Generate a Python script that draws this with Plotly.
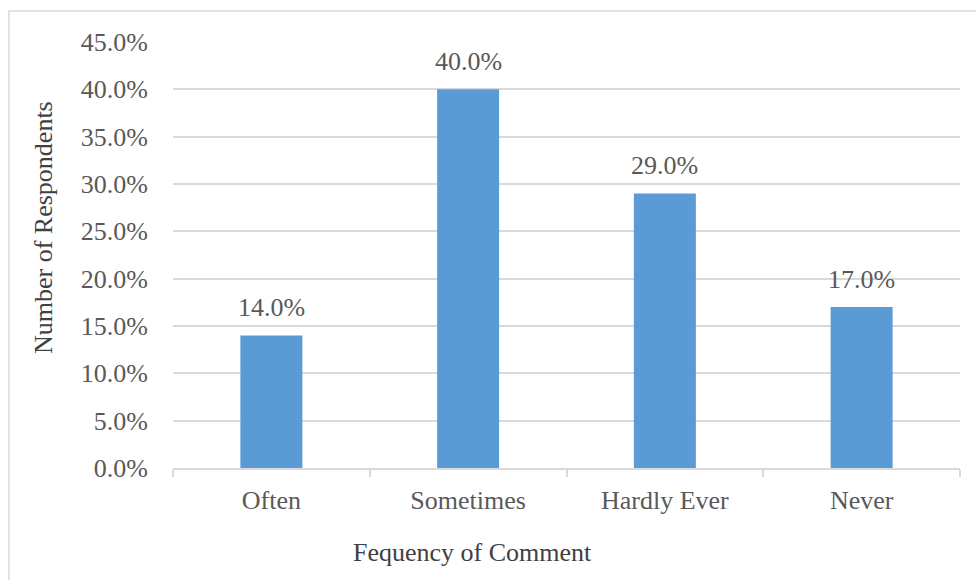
import plotly.graph_objects as go

categories = ["Often", "Sometimes", "Hardly Ever", "Never"]
shares = [14.0, 40.0, 29.0, 17.0]
y_ticks = [0, 5, 10, 15, 20, 25, 30, 35, 40, 45]

FONT = "Liberation Serif, Times New Roman, serif"
TEXT = "#595959"
TITLE = "#404040"
GRID = "#d9d9d9"
SIZE = 26

fig = go.Figure(
    go.Bar(
        x=categories,
        y=shares,
        marker=dict(color="#5B9BD5", line=dict(width=0)),
        hoverinfo="skip",
    )
)

# value labels above each bar
for cat, val in zip(categories, shares):
    fig.add_annotation(
        x=cat, y=val, text=f"{val:.1f}%", showarrow=False,
        yanchor="bottom", yshift=11,
        font=dict(family=FONT, size=SIZE, color=TEXT),
    )

# axis titles, placed as in the chart layout
fig.add_annotation(
    xref="paper", yref="paper", x=(472 - 173) / 787, y=(468 - 552) / 426,
    text="Fequency of Comment", showarrow=False, yanchor="middle", xanchor="center",
    font=dict(family=FONT, size=SIZE, color=TITLE),
)
fig.add_annotation(
    xref="paper", yref="paper", x=(43 - 173) / 787, y=(468 - 228) / 426,
    text="Number of Respondents", showarrow=False, textangle=-90,
    yanchor="middle", xanchor="center",
    font=dict(family=FONT, size=SIZE, color=TITLE),
)

# chart area frame
fig.add_shape(
    type="rect", xref="paper", yref="paper",
    x0=-0.2084, x1=1.06, y0=-0.35, y1=1.0728,
    line=dict(color=GRID, width=1.5), fillcolor="rgba(0,0,0,0)",
    layer="below",
)

fig.update_layout(
    width=976, height=580,
    margin=dict(l=173, r=16, t=42, b=112),
    paper_bgcolor="white", plot_bgcolor="white",
    bargap=0.685,
    showlegend=False,
    font=dict(family=FONT, size=SIZE, color=TEXT),
    xaxis=dict(
        showgrid=False, showline=True, linecolor=GRID, linewidth=1.5,
        ticks="outside", tickson="boundaries", ticklen=7, tickcolor=GRID, tickwidth=1.5,
        tickfont=dict(family=FONT, size=SIZE, color=TEXT),
        ticklabelstandoff=8,
    ),
    yaxis=dict(
        range=[0, 45], tickvals=y_ticks,
        ticktext=[f"{v:.1f}%" for v in y_ticks],
        showgrid=True, gridcolor=GRID, gridwidth=1.5,
        zeroline=False, showline=False, ticks="",
        tickfont=dict(family=FONT, size=SIZE, color=TEXT),
        ticklabelstandoff=24,
    ),
)

fig.write_html("out.html")
